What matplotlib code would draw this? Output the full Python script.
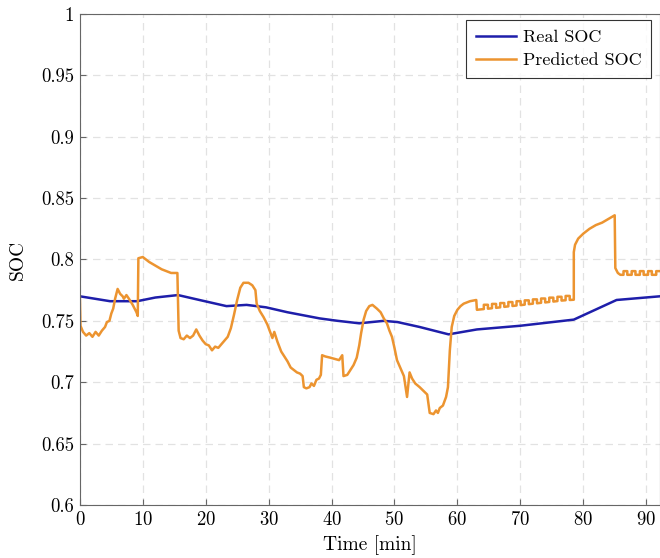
import matplotlib.pyplot as plt

plt.rcParams['font.family'] = ['cmr10', 'DejaVu Serif']
plt.rcParams['axes.formatter.use_mathtext'] = True

# real SOC
real_t = [0, 4.8, 9.1, 12, 15.6, 19, 23.3, 26.5, 29.6, 33, 38.1, 41, 44.4,
          48.3, 50.5, 54, 58.6, 63.1, 70, 78.5, 85.3, 92.2]
real_v = [0.770, 0.766, 0.766, 0.769, 0.771, 0.767, 0.762, 0.763, 0.761, 0.757,
          0.752, 0.750, 0.748, 0.750, 0.749, 0.745, 0.739, 0.743, 0.746, 0.751,
          0.767, 0.770]

# predicted SOC
pred_t = [0, 0.1, 0.5, 1.0, 1.5, 2.0, 2.5, 3.0, 3.5, 4.0, 4.3, 4.7, 5.0, 5.3, 5.6,
          6.0, 6.4, 6.8, 7.0, 7.4, 7.8, 8.4, 9.0, 9.2, 9.3, 10.0, 11, 12, 13, 14,
          14.5, 15.5, 15.7, 16.0, 16.5, 17.0, 17.5, 18.0, 18.5, 19.0, 19.5, 20.0,
          20.5, 21.0, 21.5, 22.0, 22.5, 23.0, 23.5, 24.0, 24.5, 25.0, 25.5, 26.0,
          26.8, 27.4, 27.9, 28.1, 28.6, 29.2, 29.8, 30.3, 30.6, 30.9, 31.4, 32.0,
          32.5, 33.0, 33.5, 34.0, 34.5, 35.0, 35.4, 35.6, 36.0, 36.5, 36.8, 37.2,
          37.6, 38.0, 38.3, 38.5, 39.0, 39.8, 40.5, 41.2, 41.7, 41.9, 42.5, 43.0,
          43.5, 44.0, 44.4, 44.7, 45.1, 45.5, 46.0, 46.5, 47.2, 47.8, 48.3, 48.8,
          49.2, 49.6, 50.0, 50.4, 50.9, 51.5, 52.0, 52.4, 52.8, 53.3, 54.0, 54.6,
          55.2, 55.6, 56.2, 56.6, 56.9, 57.2, 57.7, 58.2, 58.5, 58.8, 59.1, 59.5,
          60.0, 60.5, 61.0, 62.0, 63.0, 63.1,
          64.2, 64.2, 64.85, 64.85, 65.5, 65.5, 66.15, 66.15,
          66.8, 66.8, 67.45, 67.45, 68.1, 68.1, 68.75, 68.75,
          69.4, 69.4, 70.05, 70.05, 70.7, 70.7, 71.35, 71.35,
          72.0, 72.0, 72.65, 72.65, 73.3, 73.3, 73.95, 73.95,
          74.6, 74.6, 75.25, 75.25, 75.9, 75.9, 76.55, 76.55,
          77.2, 77.2, 77.85, 77.85, 78.5,
          78.5, 78.7, 79.2, 80.0, 81.0, 82.0, 83.0, 84.0, 85.0, 85.1, 85.5, 85.9,
          86.4, 86.4, 87.0, 87.0, 87.7, 87.7, 88.3, 88.3,
          89.0, 89.0, 89.6, 89.6, 90.3, 90.3, 90.9, 90.9,
          91.6, 91.6, 92.2]
pred_v = [0.770, 0.746, 0.741, 0.738, 0.740, 0.737, 0.741, 0.738, 0.742, 0.745,
          0.749, 0.750, 0.756, 0.760, 0.768, 0.776, 0.772, 0.770, 0.768, 0.771,
          0.768, 0.763, 0.757, 0.754, 0.801, 0.802, 0.798, 0.795, 0.792, 0.790,
          0.789, 0.789, 0.742, 0.736, 0.735, 0.738, 0.736, 0.738, 0.743, 0.738,
          0.734, 0.731, 0.730, 0.726, 0.729, 0.728, 0.731, 0.734, 0.737, 0.744,
          0.755, 0.767, 0.777, 0.781, 0.781, 0.779, 0.775, 0.764, 0.758, 0.753,
          0.747, 0.740, 0.736, 0.741, 0.733, 0.725, 0.721, 0.717, 0.712, 0.710,
          0.708, 0.707, 0.705, 0.696, 0.695, 0.696, 0.699, 0.697, 0.702, 0.703,
          0.706, 0.722, 0.721, 0.720, 0.719, 0.718, 0.722, 0.705, 0.706, 0.710,
          0.714, 0.720, 0.730, 0.740, 0.751, 0.758, 0.762, 0.763, 0.760, 0.757,
          0.752, 0.748, 0.742, 0.737, 0.728, 0.718, 0.712, 0.705, 0.688, 0.708,
          0.703, 0.699, 0.696, 0.693, 0.690, 0.675, 0.674, 0.677, 0.675, 0.679,
          0.681, 0.688, 0.696, 0.726, 0.745, 0.754, 0.759, 0.762, 0.764, 0.766,
          0.767, 0.759,
          0.7596, 0.7631, 0.7631, 0.7599, 0.7603, 0.7638, 0.7638, 0.7606,
          0.7610, 0.7645, 0.7645, 0.7614, 0.7618, 0.7653, 0.7653, 0.7621,
          0.7625, 0.7660, 0.7660, 0.7628, 0.7632, 0.7667, 0.7667, 0.7636,
          0.7640, 0.7675, 0.7675, 0.7643, 0.7647, 0.7682, 0.7682, 0.7650,
          0.7654, 0.7689, 0.7689, 0.7657, 0.7661, 0.7696, 0.7696, 0.7665,
          0.7668, 0.7703, 0.7703, 0.7670, 0.7672,
          0.806, 0.812, 0.817, 0.821, 0.825, 0.828, 0.830, 0.833, 0.836, 0.793,
          0.789, 0.7875,
          0.7875, 0.7905, 0.7905, 0.7875, 0.7875, 0.7905, 0.7905, 0.7875,
          0.7875, 0.7905, 0.7905, 0.7875, 0.7875, 0.7905, 0.7905, 0.7875,
          0.7875, 0.7905, 0.7905]

fig = plt.figure(figsize=(6.6, 5.58), dpi=100)
ax = fig.add_axes([0.121, 0.095, 0.879, 0.88])

ax.plot(real_t, real_v, color='#1e1eaa', lw=1.8, label='Real SOC')
ax.plot(pred_t, pred_v, color='#ec9430', lw=1.8, label='Predicted SOC')

ax.set_xlim(0, 92.2)
ax.set_ylim(0.6, 1.0)
ax.set_xticks(range(0, 91, 10))
ax.set_yticks([0.6, 0.65, 0.7, 0.75, 0.8, 0.85, 0.9, 0.95, 1.0])
ax.set_yticklabels(['0.6', '0.65', '0.7', '0.75', '0.8', '0.85', '0.9', '0.95', '1'])

ax.grid(True, color='#e2e2e2', linestyle=(0, (6, 4)), lw=0.9)
ax.set_axisbelow(True)
for s in ax.spines.values():
    s.set_color('#666666')
ax.tick_params(direction='in', length=4, color='#666666', labelsize=13.5, pad=4)

ax.set_xlabel('Time [min]', fontsize=14, labelpad=5)
ax.set_ylabel('SOC', fontsize=14, labelpad=10)

leg = ax.legend(loc='upper right', bbox_to_anchor=(0.985, 0.988), borderaxespad=0,
                fancybox=False, edgecolor='black', fontsize=13, handlelength=2.2,
                labelspacing=0.4, borderpad=0.55, handletextpad=0.4)
leg.get_frame().set_linewidth(0.8)

plt.savefig('out.png', dpi=100)
